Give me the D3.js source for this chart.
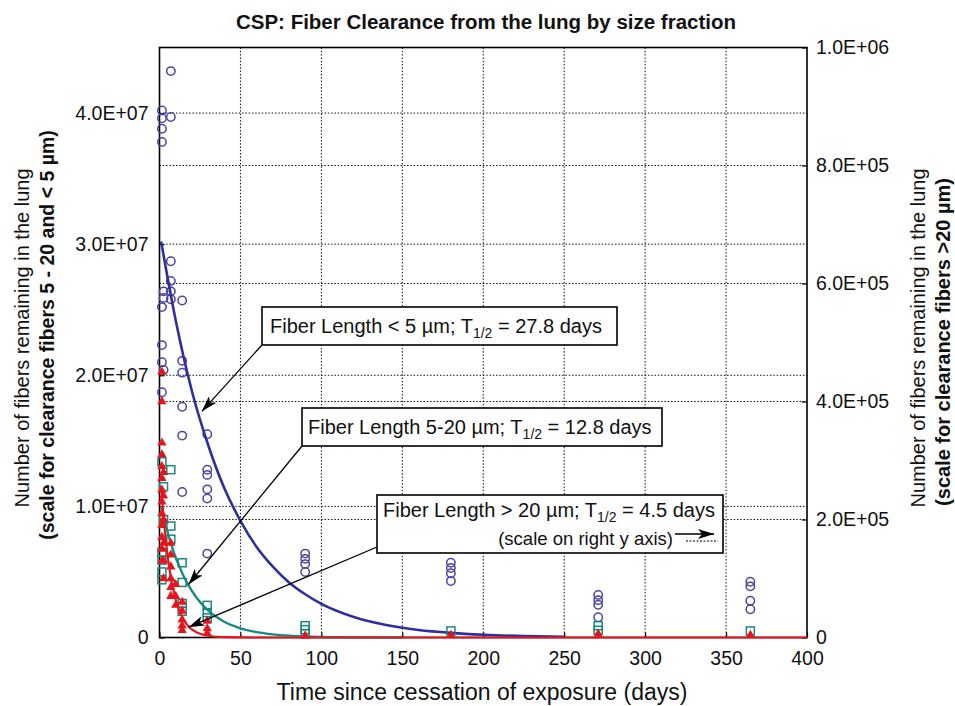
<!DOCTYPE html>
<html>
<head>
<meta charset="utf-8">
<script src="https://cdn.jsdelivr.net/npm/d3@7"></script>
<style>
  body { margin: 0; background: #fff; }
  svg { display: block; font-family: "Liberation Sans", Arial, sans-serif; }
</style>
</head>
<body>
<svg id="chart" width="955" height="706"></svg>
<script>
// axis ticks
const xTicks = [0, 50, 100, 150, 200, 250, 300, 350, 400];
const leftTicks = [0, 1e7, 2e7, 3e7, 4e7];
const rightTicks = [0, 2e5, 4e5, 6e5, 8e5, 1e6];

// measured fibers < 5 um (left axis)
const shortDays = [1.5, 1.5, 1.5, 1.5, 1.5, 1.5, 1.5, 1.5, 2.5, 2.5, 2.5,
  7, 7, 7, 7, 7, 7, 14, 14, 14, 14, 14, 14, 29.5, 29.5, 29.5, 29.5, 29.5, 29.5,
  90, 90, 90, 90, 180, 180, 180, 180, 271, 271, 271, 271, 365, 365, 365, 365];
const shortValues = [4.02e7, 3.96e7, 3.88e7, 3.78e7, 2.52e7, 2.23e7, 2.10e7, 1.87e7, 2.64e7, 2.59e7, 2.04e7,
  4.32e7, 3.97e7, 2.87e7, 2.72e7, 2.64e7, 2.58e7, 2.57e7, 2.11e7, 2.02e7, 1.76e7, 1.54e7, 1.11e7,
  1.55e7, 1.28e7, 1.24e7, 1.13e7, 1.06e7, 6.4e6,
  6.4e6, 6.0e6, 5.6e6, 5.0e6, 5.7e6, 5.3e6, 4.9e6, 4.3e6, 3.25e6, 2.85e6, 2.5e6, 1.55e6, 4.25e6, 3.9e6, 2.8e6, 2.15e6];

// measured fibers 5-20 um (left axis)
const midDays = [1.5, 1.5, 1.5, 1.5, 1.5, 2.5, 2.5, 7, 7, 7, 14, 14, 14, 14, 29.5, 29.5, 29.5,
  90, 90, 90, 180, 271, 271, 365];
const midValues = [1.34e7, 6.5e6, 5.9e6, 5.0e6, 4.4e6, 1.15e7, 9.0e6, 1.28e7, 8.5e6, 7.5e6, 5.7e6, 4.2e6, 2.6e6, 2.0e6,
  2.45e6, 1.9e6, 1.5e6, 9.0e5, 6.0e5, 3.0e5, 5.0e5, 9.0e5, 5.5e5, 5.0e5];

// measured fibers > 20 um (right axis)
const longDays = [1.5, 1.5, 1.5, 1.5, 1.5, 1.5, 1.5, 1.5, 1.5, 1.5, 1.5, 1.5, 1.5,
  2.5, 2.5, 2.5, 2.5, 2.5, 2.5, 7, 7, 7, 7, 7, 7, 10, 10, 10, 14, 14, 14, 14, 14,
  29.5, 29.5, 29.5, 90, 180, 271, 365];
const longValues = [4.5e5, 4.0e5, 3.3e5, 3.1e5, 2.9e5, 2.7e5, 2.5e5, 2.3e5, 2.1e5, 1.9e5, 1.7e5, 1.5e5, 1.3e5,
  2.8e5, 2.4e5, 2.0e5, 1.6e5, 1.3e5, 1.0e5, 1.6e5, 1.4e5, 1.2e5, 1.0e5, 8.5e4, 7.0e4, 9.0e4, 7.0e4, 5.5e4,
  6.0e4, 4.5e4, 3.0e4, 2.0e4, 1.2e4, 2.8e4, 1.5e4, 7.0e3, 3.0e3, 4.0e3, 6.0e3, 4.0e3];

// fitted clearance curves
const shortFitDays = [1, 10, 20, 30, 40, 50, 60, 70, 80, 90, 100, 120, 140, 160, 180, 200, 225, 250];
const shortFitValues = [3.02e7, 2.42e7, 1.88e7, 1.47e7, 1.14e7, 8.9e6, 6.9e6, 5.4e6, 4.2e6, 3.3e6, 2.56e6,
  1.56e6, 9.5e5, 5.7e5, 3.5e5, 2.1e5, 1.1e5, 6e4];
const midFitDays = [1, 2, 4, 6, 8, 10, 12, 15, 20, 25, 30, 35, 40, 50, 60, 70, 80, 90, 100, 125, 150];
const midFitValues = [1.0e7, 9.4e6, 8.5e6, 7.6e6, 6.8e6, 6.1e6, 5.5e6, 4.66e6, 3.56e6, 2.71e6, 2.07e6, 1.58e6,
  1.2e6, 7.0e5, 4.1e5, 2.4e5, 1.4e5, 8e4, 4.7e4, 1.1e4, 3e3];
const longFitDays = [1, 2, 3, 4, 5, 6, 7, 8, 9, 10, 12, 14, 16, 18, 20, 25, 30, 40, 60, 100, 200, 300, 400];
const longFitValues = [2.57e5, 2.2e5, 1.89e5, 1.62e5, 1.39e5, 1.19e5, 1.02e5, 8.75e4, 7.5e4, 6.43e4,
  4.72e4, 3.47e4, 2.55e4, 1.88e4, 1.38e4, 6.4e3, 3.0e3, 600, 0, 0, 0, 0, 0];

const blue = "#4a44a6", blueLine = "#2e2e9e", teal = "#168a7e", red = "#e8141c";

const svg = d3.select("#chart");
const x = d3.scaleLinear().domain([0, 400]).range([159.5, 807]);
const yLeft = d3.scaleLinear().domain([0, 4.5e7]).range([637.5, 47.5]);
const yRight = d3.scaleLinear().domain([0, 1e6]).range([637.5, 47.5]);
const plotTop = yLeft.range()[1], plotBottom = yLeft.range()[0];

const fmtE = (v) => v === 0 ? "0" :
  v.toExponential(1).toUpperCase().replace(/E([+-])(\d)$/, "E$10$2");

// grid
const grid = svg.append("g").attr("stroke", "#111").attr("stroke-width", 1).attr("stroke-dasharray", "1.5,1.8");
grid.selectAll(".gx").data(xTicks.slice(1, -1)).join("line").attr("class", "gx")
  .attr("x1", (d) => x(d)).attr("x2", (d) => x(d)).attr("y1", plotTop).attr("y2", plotBottom);
grid.selectAll(".gl").data(leftTicks.slice(1)).join("line").attr("class", "gl")
  .attr("x1", x(0)).attr("x2", x(400)).attr("y1", (d) => yLeft(d)).attr("y2", (d) => yLeft(d));
grid.selectAll(".gr").data(rightTicks.slice(1, -1)).join("line").attr("class", "gr")
  .attr("x1", x(0)).attr("x2", x(400)).attr("y1", (d) => yRight(d)).attr("y2", (d) => yRight(d));

// frame
svg.append("rect").attr("x", x(0)).attr("y", plotTop).attr("width", x(400) - x(0)).attr("height", plotBottom - plotTop)
  .attr("fill", "none").attr("stroke", "#000").attr("stroke-width", 1.6);

// axes
const styleAxis = (g) => {
  g.select(".domain").remove();
  g.attr("font-family", null).attr("font-size", 19.5);
  g.selectAll("line").attr("stroke", "#000").attr("stroke-width", 1.2);
  g.selectAll("text").attr("fill", "#111");
};
svg.append("g").attr("transform", `translate(0,${plotBottom})`)
  .call(d3.axisBottom(x).tickValues(xTicks).tickSize(-5).tickPadding(14)).call(styleAxis);
svg.append("g").attr("transform", `translate(${x(0)},0)`)
  .call(d3.axisLeft(yLeft).tickValues(leftTicks).tickFormat(fmtE).tickSize(-5).tickPadding(11)).call(styleAxis);
svg.append("g").attr("transform", `translate(${x(400)},0)`)
  .call(d3.axisRight(yRight).tickValues(rightTicks).tickFormat(fmtE).tickSize(-5).tickPadding(9)).call(styleAxis);

// data
const plot = svg.append("g");
const lineL = d3.line().x((d) => x(d[0])).y((d) => yLeft(d[1])).curve(d3.curveMonotoneX);
const lineR = d3.line().x((d) => x(d[0])).y((d) => yRight(d[1])).curve(d3.curveMonotoneX);

plot.selectAll(".c").data(d3.zip(shortDays, shortValues)).join("circle").attr("class", "c")
  .attr("cx", (d) => x(d[0])).attr("cy", (d) => yLeft(d[1])).attr("r", 4.2)
  .attr("fill", "none").attr("stroke", blue).attr("stroke-width", 1.5);
plot.append("path").attr("d", lineL(d3.zip(shortFitDays, shortFitValues)))
  .attr("fill", "none").attr("stroke", blueLine).attr("stroke-width", 2.6);

plot.selectAll(".s").data(d3.zip(midDays, midValues)).join("rect").attr("class", "s")
  .attr("x", (d) => x(d[0]) - 4).attr("y", (d) => yLeft(d[1]) - 4).attr("width", 8).attr("height", 8)
  .attr("fill", "none").attr("stroke", teal).attr("stroke-width", 1.5);
plot.append("path").attr("d", lineL(d3.zip(midFitDays, midFitValues)))
  .attr("fill", "none").attr("stroke", teal).attr("stroke-width", 2.4);

const tri = d3.symbol().type(d3.symbolTriangle).size(38);
plot.selectAll(".t").data(d3.zip(longDays, longValues)).join("path").attr("class", "t")
  .attr("d", tri).attr("transform", (d) => `translate(${x(d[0])},${yRight(d[1])})`)
  .attr("fill", red);
plot.append("path").attr("d", lineR(d3.zip(longFitDays, longFitValues)))
  .attr("fill", "none").attr("stroke", red).attr("stroke-width", 2.2);

// annotations
svg.append("defs").append("marker").attr("id", "arrow")
  .attr("markerUnits", "userSpaceOnUse").attr("markerWidth", 16).attr("markerHeight", 10)
  .attr("refX", 16).attr("refY", 5).attr("orient", "auto")
  .append("path").attr("d", "M0,0 L16,5 L0,10 L4,5 Z").attr("fill", "#000");

const notes = [
  { bx: 262, by: 307, bw: 355, bh: 38, label: "Fiber Length < 5 µm; T", half: " = 27.8 days", tx: 270, ty: 333,
    tipDay: 26.2, tipValue: 1.725e7 },
  { bx: 302, by: 408, bw: 360, bh: 38, label: "Fiber Length 5-20 µm; T", half: " = 12.8 days", tx: 308, ty: 434,
    tipDay: 17.9, tipValue: 4.04e6 },
  { bx: 377, by: 495, bw: 346, bh: 58, label: "Fiber Length > 20 µm; T", half: " = 4.5 days", tx: 383, ty: 517,
    tipDay: 17.9, tipValue: 7.9e5 }
];

const ann = svg.append("g");
notes.forEach((n) => {
  ann.append("line").attr("x1", n.bx).attr("y1", n.by + n.bh - (n.bh > 40 ? 6 : 0))
    .attr("x2", x(n.tipDay)).attr("y2", yLeft(n.tipValue))
    .attr("stroke", "#000").attr("stroke-width", 1.3).attr("marker-end", "url(#arrow)");
  ann.append("rect").attr("x", n.bx).attr("y", n.by).attr("width", n.bw).attr("height", n.bh)
    .attr("fill", "#fff").attr("stroke", "#000").attr("stroke-width", 1.6);
  const t = ann.append("text").attr("x", n.tx).attr("y", n.ty).attr("font-size", 20).attr("fill", "#111");
  t.append("tspan").text(n.label);
  t.append("tspan").attr("font-size", 14).attr("dy", 5).text("1/2");
  t.append("tspan").attr("dy", -5).text(n.half);
});

const n3 = notes[2];
ann.append("text").attr("x", n3.bx + 296).attr("y", n3.by + 50).attr("text-anchor", "end")
  .attr("font-size", 18.5).attr("fill", "#111").text("(scale on right y axis)");
ann.append("line").attr("x1", n3.bx + 298).attr("x2", n3.bx + 337).attr("y1", n3.by + 39).attr("y2", n3.by + 39)
  .attr("stroke", "#000").attr("stroke-width", 1.3).attr("marker-end", "url(#arrow)");
ann.append("line").attr("x1", n3.bx + 309).attr("x2", n3.bx + 341).attr("y1", n3.by + 46).attr("y2", n3.by + 46)
  .attr("stroke", "#000").attr("stroke-width", 1.2).attr("stroke-dasharray", "2,1.5");

// titles
svg.append("text").attr("x", 486).attr("y", 29).attr("text-anchor", "middle")
  .attr("font-size", 20.5).attr("font-weight", "bold").attr("fill", "#111")
  .text("CSP: Fiber Clearance from the lung by size fraction");

svg.append("text").attr("x", 482).attr("y", 700).attr("text-anchor", "middle")
  .attr("font-size", 23).attr("fill", "#111").text("Time since cessation of exposure (days)");

const vTitle = (cx, cy, txt, bold, size) => svg.append("text")
  .attr("transform", `translate(${cx},${cy}) rotate(-90)`).attr("text-anchor", "middle")
  .attr("dominant-baseline", "central").attr("font-size", size)
  .attr("font-weight", bold ? "bold" : null).attr("fill", "#111").text(txt);

vTitle(22, 338, "Number of fibers remaining in the lung", false, 20);
vTitle(47, 335, "(scale for clearance fibers 5 - 20 and < 5 µm)", true, 19.5);
vTitle(918, 338, "Number of fibers remaining in the lung", false, 20);
vTitle(943, 342, "(scale for clearance fibers >20 µm)", true, 20);
</script>
</body>
</html>
